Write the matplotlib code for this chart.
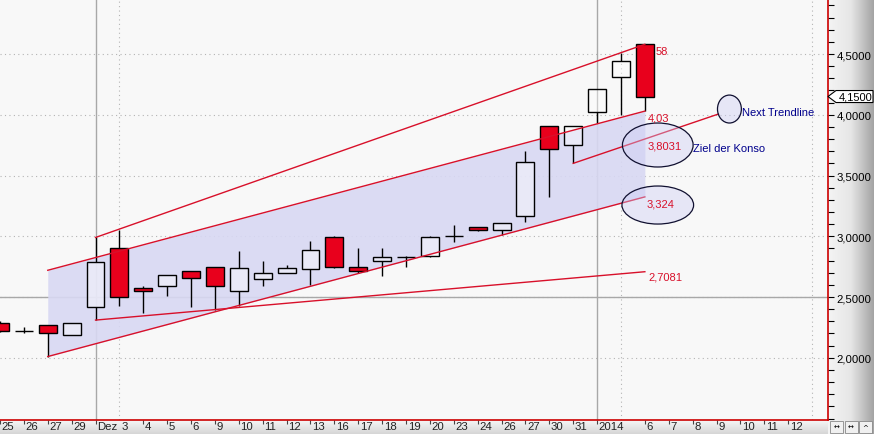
import numpy as np
import matplotlib.pyplot as plt
from matplotlib.patches import Ellipse, Polygon, Rectangle
from matplotlib.ticker import MultipleLocator, FixedLocator, FuncFormatter
from matplotlib.colors import LinearSegmentedColormap

plt.rcParams['font.family'] = ['Liberation Sans', 'DejaVu Sans']
plt.rcParams['font.size'] = 7.5

# daily candles, 25 Nov 2013 .. 6 Jan 2014
opens = [2.29, 2.22, 2.27, 2.19, 2.42, 2.90, 2.57, 2.59, 2.71, 2.75, 2.55, 2.65, 2.70, 2.73,
         2.99, 2.75, 2.80, 2.83, 2.84, 3.00, 3.08, 3.05, 3.17, 3.91, 3.75, 4.02, 4.31, 4.58]
highs = [2.30, 2.25, 2.27, 2.29, 2.99, 3.05, 2.59, 2.68, 2.71, 2.75, 2.88, 2.80, 2.76, 2.96,
         3.00, 2.90, 2.90, 2.84, 3.00, 3.09, 3.08, 3.11, 3.70, 3.91, 3.91, 4.21, 4.51, 4.58]
lows = [2.21, 2.20, 2.01, 2.19, 2.31, 2.43, 2.37, 2.51, 2.42, 2.39, 2.43, 2.59, 2.70, 2.60,
        2.74, 2.70, 2.67, 2.75, 2.83, 2.95, 3.04, 3.01, 3.12, 3.32, 3.60, 3.93, 4.00, 4.03]
closes = [2.22, 2.22, 2.20, 2.29, 2.79, 2.50, 2.55, 2.68, 2.66, 2.59, 2.74, 2.70, 2.74, 2.89,
          2.75, 2.71, 2.83, 2.83, 2.99, 3.00, 3.05, 3.11, 3.61, 3.72, 3.91, 4.21, 4.44, 4.15]

# x axis labels, one per trading day (also the empty days to the right)
day_labels = ['25', '26', '27', '29', 'Dez', '3', '4', '5', '6', '9', '10', '11', '12', '13',
              '16', '17', '18', '19', '20', '23', '24', '26', '27', '30', '31', '2014', '',
              '6', '7', '8', '9', '10', '11', '12']
no_tick = [5, 26]
month_starts = [4, 25]
price_ticks = [2.0, 2.5, 3.0, 3.5, 4.0, 4.5]

# trend lines (day index, price)
upper_x, upper_y = [4, 27], [2.99, 4.58]
chan_x, chan_top, chan_bot = [2, 27], [2.72, 4.03], [2.01, 3.324]
lower_x, lower_y = [4, 27], [2.31, 2.7081]
next_x, next_y = [24, 30.08], [3.60, 4.006]

# drawn ellipses: centre x, centre y, width, height
ell_x = [27.54, 27.54, 30.54]
ell_y = [3.751, 3.257, 4.047]
ell_w = [2.96, 3.0, 1.0]
ell_h = [0.362, 0.313, 0.23]

W, H = 874, 435
RED = '#d8102a'
BLUE = '#00008c'

fig = plt.figure(figsize=(W / 100, H / 100), dpi=100)
fig.patch.set_facecolor('#f4f4f4')

# grey gradients for the right and bottom bars
axr = fig.add_axes([828 / W, 0, 46 / W, 1])
axr.imshow(np.linspace(0, 1, 64)[None, :], aspect='auto', extent=[0, 1, 0, 1],
           cmap=LinearSegmentedColormap.from_list('r', ['#f4f4f4', '#e6e6e6', '#a4a4a4']))
axr.axis('off')
axb = fig.add_axes([0, 0, 828 / W, 14 / H])
axb.imshow(np.linspace(0, 1, 32)[:, None], aspect='auto', extent=[0, 1, 0, 1],
           cmap=LinearSegmentedColormap.from_list('b', ['#f6f6f6', '#d6d6d6']))
axb.axis('off')

ax = fig.add_axes([0, 14 / H, 828 / W, 421 / H])
ax.set_facecolor('#f8f8f8')
ax.set_xlim(0.1667, 34.667)
ax.set_ylim(1.4877, 4.9527)

for s in ['top', 'left']:
    ax.spines[s].set_visible(False)
for s in ['right', 'bottom']:
    ax.spines[s].set_color('#cc0000')
    ax.spines[s].set_linewidth(1.2)

# right price axis
ax.yaxis.tick_right()
ax.yaxis.set_major_locator(FixedLocator(price_ticks))
ax.yaxis.set_minor_locator(MultipleLocator(0.1))
ax.yaxis.set_major_formatter(FuncFormatter(lambda v, p: f'{v:.4f}'.replace('.', ',')))
ax.tick_params(axis='y', which='both', length=4, width=0.8, color='black', pad=2,
               labelsize=8.2)

# bottom day axis
ticks = [i for i, t in enumerate(day_labels) if t and i not in no_tick]
ax.set_xticks(ticks)
ax.set_xticks(np.arange(0, 35), minor=True)
ax.tick_params(axis='x', which='major', length=3, width=0.8, color='#444444',
               labelbottom=False)
ax.tick_params(axis='x', which='minor', length=0)
for i, t in enumerate(day_labels):
    if t:
        ax.annotate(t, xy=(i, 0), xycoords=ax.get_xaxis_transform(), xytext=(1.2, -1.0),
                    textcoords='offset points', ha='left', va='top', fontsize=8.2,
                    color='#222222', annotation_clip=False)

# grid
grid_style = dict(color='#b4b4b4', linestyle=(0, (1, 3)), linewidth=0.8)
ax.grid(True, which='minor', axis='x', **grid_style)
ax.grid(True, which='major', axis='y', **grid_style)
ax.set_axisbelow(True)
for m in month_starts:
    ax.axvline(m, color='#a8a8a8', lw=1, zorder=1)
ax.axhline(2.5, color='#a8a8a8', lw=1, zorder=1)

# channel shading
ax.fill_between(chan_x, chan_bot, chan_top, color='#d8d8f3', alpha=0.9, lw=0, zorder=2)

# candles
o, h, l, c = map(np.array, (opens, highs, lows, closes))
idx = np.arange(len(o))
up = c >= o
top = np.maximum(o, c)
bot = np.minimum(o, c)
ax.vlines(idx, top, h, color='black', lw=1, zorder=3)
ax.vlines(idx, l, bot, color='black', lw=1, zorder=3)
ax.bar(idx[up], (top - bot)[up], bottom=bot[up], width=0.75, facecolor=(1, 1, 1, 0.4),
       edgecolor='black', lw=1, zorder=4)
ax.bar(idx[~up], (top - bot)[~up], bottom=bot[~up], width=0.75, facecolor='#e8001c',
       edgecolor='black', lw=1, zorder=4)

# trend lines
for xs, ys in [(upper_x, upper_y), (chan_x, chan_top), (chan_x, chan_bot),
               (lower_x, lower_y), (next_x, next_y)]:
    ax.plot(xs, ys, color=RED, lw=1, zorder=5)

# ellipses
for ex, ey, ew, eh in zip(ell_x, ell_y, ell_w, ell_h):
    ax.add_patch(Ellipse((ex, ey), ew, eh, facecolor=(0.8, 0.8, 0.96, 0.4),
                         edgecolor='#101030', lw=0.9, zorder=6))

# value labels
lab = dict(textcoords='offset points', ha='left', va='center', fontsize=8, zorder=7)
ax.annotate('58', xy=(27, upper_y[1]), xytext=(7.9, -5), color=RED, **lab)
ax.annotate('4,03', xy=(27, chan_top[1]), xytext=(2.2, -4.3), color=RED, **lab)
ax.annotate('3,324', xy=(27, chan_bot[1]), xytext=(1.4, -5), color=RED, **lab)
ax.annotate('2,7081', xy=(27, lower_y[1]), xytext=(2.9, -3.6), color=RED, **lab)
ax.annotate('3,8031', xy=(ell_x[0], ell_y[0]), xytext=(-7.2, 0), color=RED, **lab)
ax.annotate('Ziel der Konso', xy=(ell_x[0], ell_y[0]), xytext=(25.2, -2.2), color=BLUE, **lab)
ax.annotate('Next Trendline', xy=(ell_x[2], ell_y[2]), xytext=(9.4, -2.2), color=BLUE, **lab)

# last price tag on the price axis
tip = ax.transData.transform((ax.get_xlim()[1], closes[-1]))
tx, ty = tip[0], tip[1]
pts = [(tx, ty), (tx + 8, ty + 6), (tx + 45, ty + 6), (tx + 45, ty - 6), (tx + 8, ty - 6)]
pts = [(px / W, py / H) for px, py in pts]
fig.patches.append(Polygon(pts, closed=True, transform=fig.transFigure, facecolor='white',
                           edgecolor='black', lw=0.8, zorder=10))
fig.text((tx + 11) / W, ty / H, f'{closes[-1]:.4f}'.replace('.', ','), ha='left',
         va='center', fontsize=8, zorder=11)

# little buttons bottom right
for k, s in enumerate(['\u2194', '\u2194', '^']):
    x0 = 830 + k * 14.5
    fig.patches.append(Rectangle((x0 / W, 1 / H), 13 / W, 12 / H, transform=fig.transFigure,
                                 facecolor='#f0f0f0', edgecolor='#888888', lw=0.6, zorder=10))
    fig.text((x0 + 6.5) / W, 7 / H, s, ha='center', va='center', fontsize=5,
             family='DejaVu Sans', zorder=11)

plt.savefig('out.png', dpi=100)
